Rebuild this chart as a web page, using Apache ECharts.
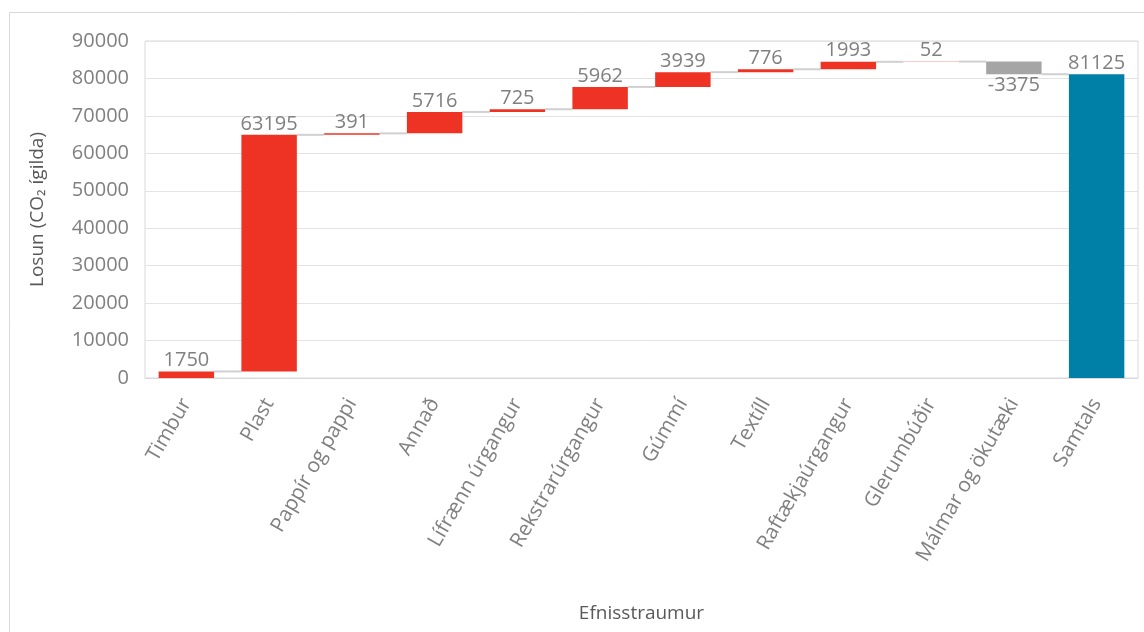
<!DOCTYPE html>
<html>
<head>
<meta charset="utf-8">
<script src="https://cdn.jsdelivr.net/npm/echarts@6/dist/echarts.min.js"></script>
<style>html,body{margin:0;padding:0;background:#fff}#c{width:1144px;height:632px}</style>
</head>
<body>
<div id="c"></div>
<script>
const categories = ['Timbur','Plast','Pappír og pappi','Annað','Lífrænn úrgangur','Rekstrarúrgangur','Gúmmí','Textíll','Raftækjaúrgangur','Glerumbúðir','Málmar og ökutæki','Samtals'];
const changes = [1750, 63195, 391, 5716, 725, 5962, 3939, 776, 1993, 52, -3375];
const total = 81125;
const yTicks = {min: 0, max: 90000, interval: 10000};

const FONT = 'Open Sans';
const RED = '#EE3224', GREY = '#A5A5A5', TEAL = '#0080A6';

// cumulative levels
const cum = [];
let run = 0;
changes.forEach(v => { run += v; cum.push(run); });

const baseData = [], valData = [], labels = [];
changes.forEach((v, i) => {
  const start = i === 0 ? 0 : cum[i - 1];
  const end = cum[i];
  baseData.push(Math.min(start, end));
  valData.push({
    value: Math.abs(v),
    itemStyle: {color: v < 0 ? GREY : RED},
    label: {position: v < 0 ? 'bottom' : 'top'}
  });
  labels.push(String(v));
});
baseData.push(0);
valData.push({value: total, itemStyle: {color: TEAL}, label: {position: 'top'}});
labels.push(String(total));

const connectors = cum.map((c, i) => [i, c]);

const chart = echarts.init(document.getElementById('c'), null, {renderer: 'canvas'});
chart.setOption({
  animation: false,
  backgroundColor: '#fff',
  graphic: [{
    type: 'rect', left: 7, top: 10, shape: {width: 1150, height: 640},
    style: {fill: 'none', stroke: '#D9D9D9', lineWidth: 1}, silent: true, z: -1
  }],
  grid: {left: 145, right: 6, top: 41, bottom: 254, show: true, borderColor: '#D9D9D9', borderWidth: 1},
  xAxis: {
    type: 'category', data: categories,
    name: 'Efnisstraumur', nameLocation: 'middle', nameGap: 226,
    nameTextStyle: {fontFamily: FONT, fontSize: 19, color: '#595959'},
    axisLine: {show: true, lineStyle: {color: '#D9D9D9'}},
    axisTick: {show: false},
    axisLabel: {rotate: 60, interval: 0, margin: 22, fontFamily: FONT, fontSize: 20.5, color: '#808080'}
  },
  yAxis: {
    type: 'value', min: yTicks.min, max: yTicks.max, interval: yTicks.interval,
    name: 'Losun (CO₂ ígilda)', nameLocation: 'middle', nameGap: 98, nameRotate: 90,
    nameTextStyle: {fontFamily: FONT, fontSize: 19, color: '#595959'},
    axisLine: {show: false}, axisTick: {show: false},
    axisLabel: {fontFamily: FONT, fontSize: 20, color: '#808080', margin: 16, formatter: v => String(v)},
    splitLine: {lineStyle: {color: '#E3E3E3', width: 1}}
  },
  series: [
    {
      type: 'bar', stack: 'w', data: baseData, barWidth: '67%',
      itemStyle: {color: 'transparent'}, silent: true
    },
    {
      type: 'bar', stack: 'w', data: valData, barWidth: '67%',
      label: {
        show: true, fontFamily: FONT, fontSize: 20, color: '#808080', distance: 1,
        formatter: p => labels[p.dataIndex]
      }
    },
    {
      type: 'custom', data: connectors, z: 1,
      renderItem: (params, api) => {
        const i = api.value(0), lvl = api.value(1);
        if (i >= categories.length - 1) return null;
        const bw = api.size([1, 0])[0] * 0.67;
        const p1 = api.coord([i, lvl]);
        const p2 = api.coord([i + 1, lvl]);
        return {
          type: 'line',
          shape: {x1: p1[0] + bw / 2, y1: p1[1], x2: p2[0] - bw / 2, y2: p2[1]},
          style: {stroke: '#D0D0D0', lineWidth: 2}
        };
      }
    }
  ]
});
</script>
</body>
</html>
